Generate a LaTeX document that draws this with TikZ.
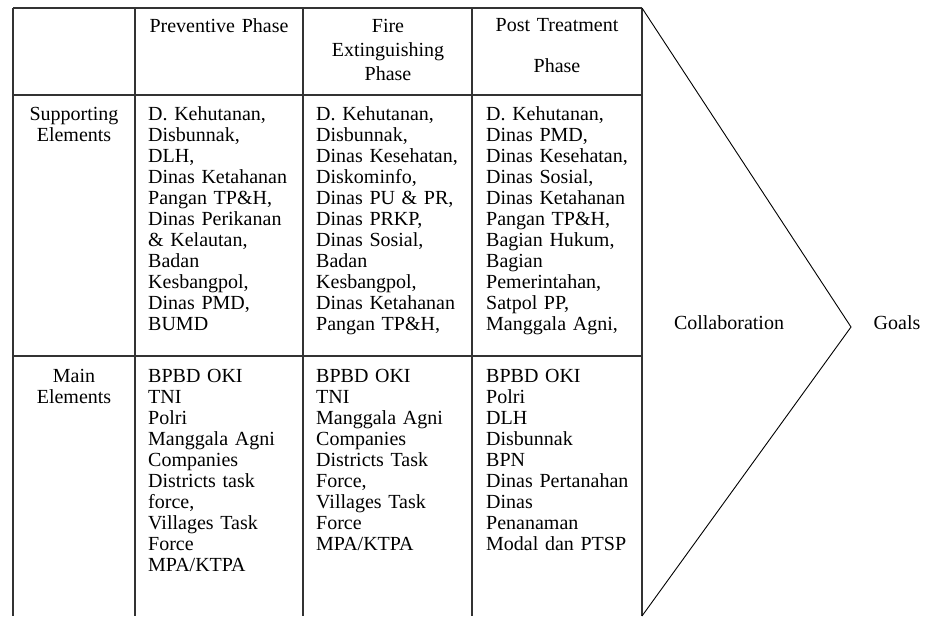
\documentclass[tikz,border=0pt]{standalone}
\usepackage{fontspec}
\setmainfont{Liberation Serif}
\usepackage{tikz}
\def\cellfont{\fontsize{20}{21}\selectfont}

\begin{document}
\begin{tikzpicture}[x=1pt,y=-1pt,
    grid/.style={color=black!80,line width=1.3pt},
    cell/.style={anchor=base west,inner sep=0pt,text width=160pt,align=left,font=\cellfont},
    head/.style={anchor=base,inner sep=0pt,text width=165pt,align=center,font=\cellfont},
    word/.style={anchor=base,inner sep=0pt,font=\cellfont}]
          \useasboundingbox (0,0) rectangle (947,616);
          % table frame
          \coordinate (tl) at (13,8);
          \coordinate (tr) at (642,8);
          \coordinate (br) at (642,616);
          \coordinate (tip) at (851,327);
          \draw [grid] (tl) -- (tr);
          \draw [grid] (13,95) -- (642,95);
          \draw [grid,line width=1.8pt] (13,356) -- (642,356);
          \foreach \cx in {13,135,303,472,642}
            \draw [grid] (\cx,8) -- (\cx,616);
          % chevron
          \draw [color=black,line width=0.9pt] (tr) -- (tip) -- (br);
          % header
          \node [head] (prev) at (219,32) {Preventive Phase};
          \node [head] (fire) at (388,32) {Fire\\[3pt]Extinguishing\\[3pt]Phase};
          \node [head] (post) at (557,31) {Post Treatment\\[20pt]Phase};
          % row labels
          \node [head,text width=120pt] (supp) at (74,120) {Supporting\\Elements};
          \node [head,text width=120pt] (main) at (74,382) {Main\\Elements};
          % supporting elements
          \node [cell] (suppPrev) at (148,120) {D. Kehutanan,\\Disbunnak,\\DLH,\\Dinas Ketahanan\\Pangan TP\&H,\\Dinas Perikanan\\\& Kelautan,\\Badan\\Kesbangpol,\\Dinas PMD,\\BUMD};
          \node [cell] (suppFire) at (316,120) {D. Kehutanan,\\Disbunnak,\\Dinas Kesehatan,\\Diskominfo,\\Dinas PU \& PR,\\Dinas PRKP,\\Dinas Sosial,\\Badan\\Kesbangpol,\\Dinas Ketahanan\\Pangan TP\&H,};
          \node [cell] (suppPost) at (486,120) {D. Kehutanan,\\Dinas PMD,\\Dinas Kesehatan,\\Dinas Sosial,\\Dinas Ketahanan\\Pangan TP\&H,\\Bagian Hukum,\\Bagian\\Pemerintahan,\\Satpol PP,\\Manggala Agni,};
          % main elements
          \node [cell] (mainPrev) at (148,382) {BPBD OKI\\TNI\\Polri\\Manggala Agni\\Companies\\Districts task\\force,\\Villages Task\\Force\\MPA/KTPA};
          \node [cell] (mainFire) at (316,382) {BPBD OKI\\TNI\\Manggala Agni\\Companies\\Districts Task\\Force,\\Villages Task\\Force\\MPA/KTPA};
          \node [cell] (mainPost) at (486,382) {BPBD OKI\\Polri\\DLH\\Disbunnak\\BPN\\Dinas Pertanahan\\Dinas\\Penanaman\\Modal dan PTSP};
          % outcome
          \node [word] (collab) at (729,329) {Collaboration};
          \node [word] (goals) at (897,329) {Goals};
\end{tikzpicture}
\end{document}
